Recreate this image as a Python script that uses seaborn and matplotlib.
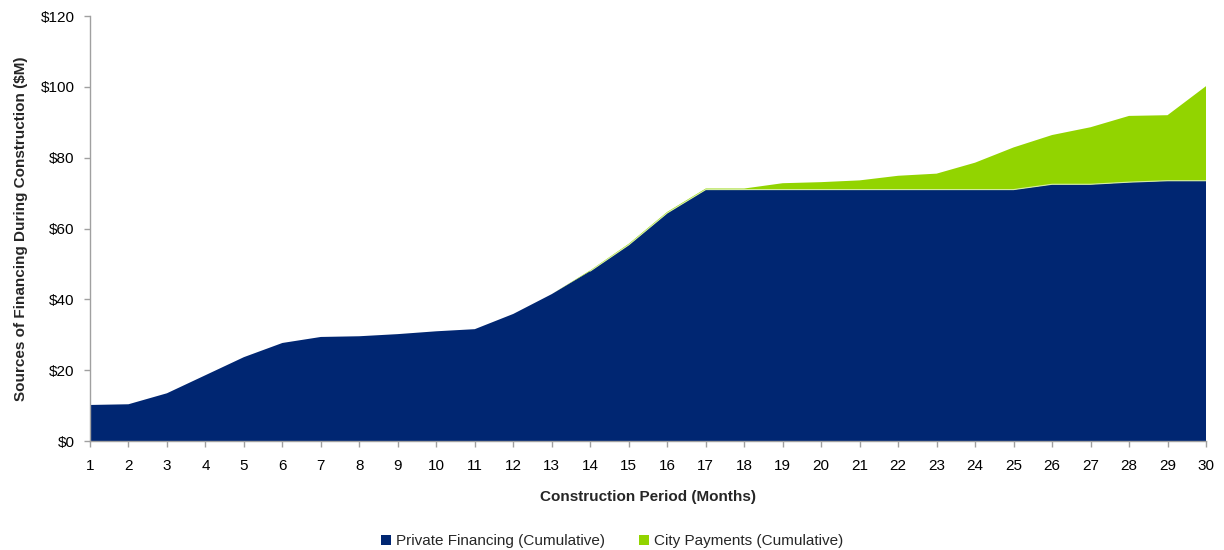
import matplotlib
matplotlib.use("Agg")
import matplotlib.pyplot as plt
import seaborn as sns
import numpy as np
from matplotlib.patches import Patch
from matplotlib.ticker import FuncFormatter, MultipleLocator

months = list(range(1, 31))
private_financing = [10.2, 10.4, 13.5, 18.6, 23.7, 27.7, 29.4, 29.6, 30.2, 31.0,
                     31.6, 35.9, 41.5, 48.0, 55.4, 64.4, 71.0, 71.0, 71.0, 71.0,
                     71.0, 71.0, 71.0, 71.0, 71.0, 72.5, 72.5, 73.1, 73.5, 73.5]
city_payments = [0.0, 0.0, 0.0, 0.0, 0.0, 0.0, 0.0, 0.0, 0.0, 0.0,
                 0.0, 0.0, 0.0, 0.2, 0.3, 0.3, 0.3, 0.3, 1.8, 2.1,
                 2.6, 3.9, 4.5, 7.6, 11.9, 13.9, 16.1, 18.7, 18.5, 26.7]
series_labels = ["Private Financing (Cumulative)", "City Payments (Cumulative)"]
colors = ["#002672", "#92d400"]

sns.set_theme(style="white")
plt.rcParams['font.family'] = ['Liberation Sans', 'DejaVu Sans']

fig = plt.figure(figsize=(12.24, 5.5), dpi=100)
ax = fig.add_axes([0.0735, 0.198, 0.9118, 0.7729])

ax.stackplot(months, private_financing, city_payments, colors=colors,
             edgecolor="none", linewidth=0)
# light seam between the two layers where city payments exist
seam_x = [m for m, c in zip(months, city_payments) if c > 0]
seam_y = [p for p, c in zip(private_financing, city_payments) if c > 0]
sns.lineplot(x=seam_x, y=seam_y, ax=ax, color="#d4eea0", linewidth=0.8)

ax.set_xlim(1, 30)
ax.set_ylim(0, 120)
ax.set_xticks(months)
ax.yaxis.set_major_locator(MultipleLocator(20))
ax.yaxis.set_major_formatter(FuncFormatter(lambda v, p: f"${int(v)}"))

for s in ["top", "right"]:
    ax.spines[s].set_visible(False)
for s in ["left", "bottom"]:
    ax.spines[s].set_color("#a0a0a0")
    ax.spines[s].set_linewidth(1.0)
ax.tick_params(axis="both", which="major", direction="out", length=4, width=1,
               color="#a0a0a0", labelsize=11, labelcolor="black")
ax.tick_params(axis="x", bottom=True, pad=9)
ax.tick_params(axis="y", left=True, pad=7)

ax.set_xlabel("Construction Period (Months)", fontsize=11, fontweight="bold", labelpad=12)
ax.set_ylabel("Sources of Financing During Construction ($M)", fontsize=11,
              fontweight="bold", labelpad=9)

handles = [Patch(facecolor=c, edgecolor="none") for c in colors]
fig.legend(handles, series_labels, loc="center", bbox_to_anchor=(0.5, 0.016),
           ncol=2, frameon=False, fontsize=11, handlelength=0.7, handleheight=0.7,
           handletextpad=0.3, columnspacing=2.2)

fig.savefig("out.png", dpi=100, facecolor="white")
